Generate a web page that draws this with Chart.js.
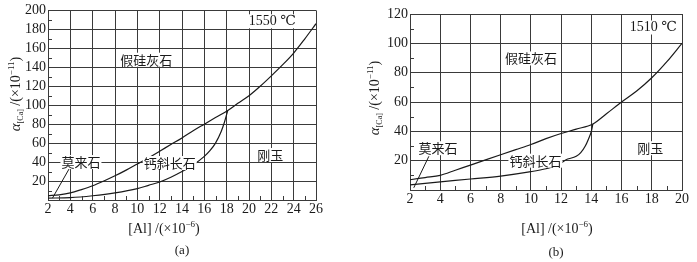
<!DOCTYPE html>
<html>
<head>
<meta charset="UTF-8">
<script src="https://cdn.jsdelivr.net/npm/chart.js@4.4.1/dist/chart.umd.min.js"></script>
<style>
  body { margin: 0; background: #fff; }
  #wrap { position: relative; width: 697px; height: 262px; }
  canvas { position: absolute; top: 0; }
</style>
</head>
<body>
<div id="wrap">
  <canvas id="chartA" width="348" height="262" style="left:0"></canvas>
  <canvas id="chartB" width="349" height="262" style="left:348px"></canvas>
</div>
<script>
// (a) 1550 ℃ : boundaries, [Al] (x10^-6) vs alpha[Ca] (x10^-11)
const aUpperAl    = [2, 3, 4, 5, 6, 7, 8, 9, 10, 11, 12, 13, 14, 15, 16, 17, 18.1, 19, 20, 21, 22, 23, 24, 25, 26];
const aUpperAlpha = [4.5, 5.5, 7.5, 11, 15, 20, 25.5, 31.5, 38, 44.5, 51.5, 58.5, 65.5, 73, 80, 87, 94.5, 102, 110, 120, 131, 142.5, 155, 170, 186];
const aLowerAl    = [2, 4, 6, 8, 10, 11, 12, 13, 14, 15, 16, 16.5, 17, 17.5, 17.8, 18.1];
const aLowerAlpha = [2, 2.5, 4.5, 7.5, 12, 15.5, 19, 24, 30, 37, 46, 52, 60, 72, 82, 94.5];
const aLeaderAl    = [3.9, 2.4];
const aLeaderAlpha = [33, 2];
const aLabels  = ['1550 ℃', '假硅灰石', '莫来石', '钙斜长石', '刚玉'];
const aLabelAl = [22.1, 10.8, 4.95, 12.9, 21.9];
const aLabelAlpha = [188.5, 148, 40, 39, 47.5];

// (b) 1510 ℃
const bUpperAl    = [2, 3, 4, 5, 6, 7, 8, 9, 10, 11, 12, 13, 14.1, 15, 16, 17, 18, 19, 20];
const bUpperAlpha = [7, 8.5, 10, 13.5, 17, 20.5, 24, 27.5, 31, 35, 38.5, 41.5, 45, 52, 60, 67.5, 76.5, 87.5, 100];
const bLowerAl    = [2, 4, 6, 8, 10, 11, 11.8, 12.3, 13, 13.3, 13.6, 13.8, 14, 14.1];
const bLowerAlpha = [3.5, 5.5, 7.5, 9.5, 12.5, 14.5, 17, 20.5, 23, 25.5, 30, 34.5, 40, 45];
const bLeaderAl    = [3.25, 2.25];
const bLeaderAlpha = [23, 1.5];
const bLabels  = ['1510 ℃', '假硅灰石', '莫来石', '钙斜长石', '刚玉'];
const bLabelAl = [18.1, 10.0, 3.85, 10.3, 17.9];
const bLabelAlpha = [110.8, 89.7, 28.5, 20, 28.5];

const xTitleMain = '[Al] /(×10';
const xTitleSup = '−6';
const yTitleSym = 'α';
const yTitleSub = '[Ca]';
const yTitleMain = ' /(×10';
const yTitleSup = '−11';

const SERIF = '"Liberation Serif", "DejaVu Serif", serif';
const CJK = '"Noto Sans CJK SC", sans-serif';
const INK = '#1a1a1a';
const GRID = '#3a3a3a';

function pts(xs, ys) {
  return xs.map((x, i) => ({ x: x, y: ys[i] }));
}

function drawText(ctx, parts, cx, cy) {
  // parts: [text, font, dy]
  let total = 0;
  parts.forEach(p => { ctx.font = p[1]; total += ctx.measureText(p[0]).width; });
  let x = cx - total / 2;
  parts.forEach(p => {
    ctx.font = p[1];
    ctx.fillText(p[0], x, cy + p[2]);
    x += ctx.measureText(p[0]).width;
  });
}

const panelPlugin = {
  id: 'panelDecor',
  afterDatasetsDraw(chart) {
    const p = chart.options.plugins.panelDecor;
    const ctx = chart.ctx;
    const xs = chart.scales.x, ys = chart.scales.y;
    const area = chart.chartArea;
    ctx.save();
    // inward minor ticks
    ctx.strokeStyle = GRID;
    ctx.lineWidth = 1;
    ctx.beginPath();
    xs.ticks.forEach(t => {
      if (t.value % p.xMajor !== 0) {
        const px = Math.round(xs.getPixelForValue(t.value)) + 0.5;
        ctx.moveTo(px, area.bottom);
        ctx.lineTo(px, area.bottom - 4);
      }
    });
    ys.ticks.forEach(t => {
      if (t.value % p.yMajor !== 0) {
        const py = Math.round(ys.getPixelForValue(t.value)) + 0.5;
        ctx.moveTo(area.left, py);
        ctx.lineTo(area.left + 4, py);
      }
    });
    ctx.stroke();

    // region labels
    ctx.textBaseline = 'middle';
    p.labels.forEach((txt, i) => {
      const px = xs.getPixelForValue(p.labelAl[i]);
      const py = ys.getPixelForValue(p.labelAlpha[i]);
      const isTemp = txt.indexOf('℃') >= 0;
      ctx.font = isTemp ? '14px ' + SERIF : '13px ' + CJK;
      const w = ctx.measureText(txt).width;
      ctx.fillStyle = '#fff';
      ctx.fillRect(px - w / 2 - 1, py - 7, w + 2, 14);
      ctx.fillStyle = INK;
      ctx.textAlign = 'center';
      ctx.fillText(txt, px, py + (isTemp ? 0 : 0));
    });

    // axis titles
    ctx.fillStyle = INK;
    ctx.textAlign = 'left';
    ctx.textBaseline = 'alphabetic';
    drawText(ctx, [
      [xTitleMain, '14px ' + SERIF, 0],
      [xTitleSup, '9px ' + SERIF, -6],
      [')', '14px ' + SERIF, 0]
    ], p.xTitle[0], p.xTitle[1] + 5);

    ctx.save();
    ctx.translate(p.yTitle[0], p.yTitle[1]);
    ctx.rotate(-Math.PI / 2);
    drawText(ctx, [
      [yTitleSym, 'italic 15px ' + SERIF, 0],
      [yTitleSub, '8px ' + SERIF, 3],
      [yTitleMain, '14px ' + SERIF, 0],
      [yTitleSup, '9px ' + SERIF, -6],
      [')', '14px ' + SERIF, 0]
    ], 0, 5);
    ctx.restore();

    ctx.font = '13px ' + SERIF;
    ctx.textAlign = 'center';
    ctx.textBaseline = 'middle';
    ctx.fillText(p.letter, p.letterPos[0], p.letterPos[1]);
    ctx.restore();
  }
};

function makePanel(id, p) {
  const lineStyle = {
    borderColor: INK, borderWidth: 1.2, pointRadius: 0,
    cubicInterpolationMode: 'monotone', fill: false
  };
  return new Chart(document.getElementById(id).getContext('2d'), {
    type: 'line',
    data: {
      datasets: [
        Object.assign({ data: pts(p.upperAl, p.upperAlpha) }, lineStyle),
        Object.assign({ data: pts(p.lowerAl, p.lowerAlpha) }, lineStyle),
        { data: pts(p.leaderAl, p.leaderAlpha), borderColor: INK, borderWidth: 1, pointRadius: 0, tension: 0 }
      ]
    },
    options: {
      responsive: false,
      animation: false,
      layout: { padding: { left: 0, top: p.area.top, right: p.canvasW - p.area.right, bottom: 0 } },
      plugins: {
        legend: { display: false },
        tooltip: { enabled: false },
        panelDecor: p
      },
      scales: {
        x: {
          type: 'linear', min: p.xMin, max: p.xMax,
          ticks: {
            stepSize: 1, autoSkip: false, maxRotation: 0, padding: 1, color: INK,
            font: { family: SERIF, size: 14 },
            callback: v => (v % p.xMajor === 0 ? v : '')
          },
          grid: {
            drawTicks: false, lineWidth: 1,
            color: c => (c.tick && c.tick.value % p.xMajor === 0 ? GRID : 'rgba(0,0,0,0)')
          },
          border: { color: GRID, width: 1 },
          afterFit: s => { s.height = p.canvasH - p.area.bottom; }
        },
        y: {
          type: 'linear', min: 0, max: p.yMax,
          ticks: {
            stepSize: p.yMajor / 2, autoSkip: false, padding: 2, color: INK,
            font: { family: SERIF, size: 14 },
            callback: v => (v % p.yMajor === 0 && v > 0 ? v : '')
          },
          grid: {
            drawTicks: false, lineWidth: 1,
            color: c => (c.tick && c.tick.value % p.yMajor === 0 ? GRID : 'rgba(0,0,0,0)')
          },
          border: { color: GRID, width: 1 },
          afterFit: s => { s.width = p.area.left; }
        }
      }
    },
    plugins: [panelPlugin]
  });
}

makePanel('chartA', {
  canvasW: 348, canvasH: 262,
  area: { left: 48, top: 7, right: 316, bottom: 200 },
  xMin: 2, xMax: 26, xMajor: 2, yMax: 200, yMajor: 20,
  upperAl: aUpperAl, upperAlpha: aUpperAlpha,
  lowerAl: aLowerAl, lowerAlpha: aLowerAlpha,
  leaderAl: aLeaderAl, leaderAlpha: aLeaderAlpha,
  labels: aLabels, labelAl: aLabelAl, labelAlpha: aLabelAlpha,
  xTitle: [164, 228], yTitle: [15, 94],
  letter: '(a)', letterPos: [182, 251]
});

makePanel('chartB', {
  canvasW: 349, canvasH: 262,
  area: { left: 62, top: 14, right: 334, bottom: 190 },
  xMin: 2, xMax: 20, xMajor: 2, yMax: 120, yMajor: 20,
  upperAl: bUpperAl, upperAlpha: bUpperAlpha,
  lowerAl: bLowerAl, lowerAlpha: bLowerAlpha,
  leaderAl: bLeaderAl, leaderAlpha: bLeaderAlpha,
  labels: bLabels, labelAl: bLabelAl, labelAlpha: bLabelAlpha,
  xTitle: [209, 228], yTitle: [26, 98],
  letter: '(b)', letterPos: [208, 253]
});
</script>
</body>
</html>
